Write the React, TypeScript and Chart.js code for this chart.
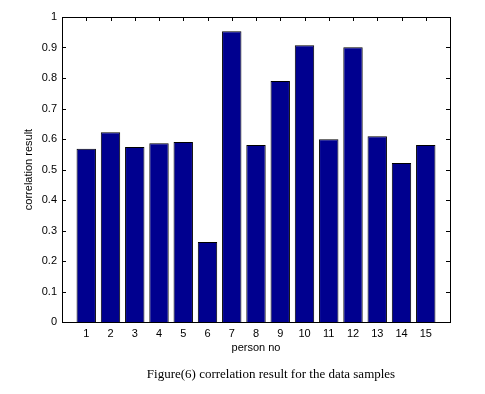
import React, { useEffect, useRef } from "react";
import { Chart, registerables } from "chart.js";

Chart.register(...registerables);

const categories = [1, 2, 3, 4, 5, 6, 7, 8, 9, 10, 11, 12, 13, 14, 15];
const correlation = [0.568, 0.622, 0.574, 0.586, 0.59, 0.262, 0.953, 0.58, 0.79, 0.907, 0.599, 0.901, 0.609, 0.521, 0.58];
const yTicks = [0, 0.1, 0.2, 0.3, 0.4, 0.5, 0.6, 0.7, 0.8, 0.9, 1];
const xTitle = "person no";
const yTitle = "correlation result";
const caption = "Figure(6) correlation result for the data samples";

const W = 485;
const H = 394;

const framePlugin = {
  id: "matlabFrame",
  beforeDatasetsDraw(chart: any) {
    const { ctx, chartArea: a, scales } = chart;
    ctx.save();
    ctx.strokeStyle = "#000";
    ctx.lineWidth = 1;
    const tl = 4;
    ctx.beginPath();
    for (const v of categories) {
      const x = Math.round(scales.x.getPixelForValue(v)) + 0.5;
      ctx.moveTo(x, a.bottom);
      ctx.lineTo(x, a.bottom - tl);
      ctx.moveTo(x, a.top);
      ctx.lineTo(x, a.top + tl);
    }
    for (const v of yTicks) {
      const y = Math.round(scales.y.getPixelForValue(v)) + 0.5;
      ctx.moveTo(a.left, y);
      ctx.lineTo(a.left + tl, y);
      ctx.moveTo(a.right, y);
      ctx.lineTo(a.right - tl, y);
    }
    ctx.stroke();
    ctx.restore();
  },
  afterDraw(chart: any) {
    const { ctx, chartArea: a } = chart;
    ctx.save();
    ctx.strokeStyle = "#000";
    ctx.lineWidth = 1;
    ctx.strokeRect(Math.round(a.left) + 0.5, Math.round(a.top) + 0.5, Math.round(a.right - a.left), Math.round(a.bottom - a.top));
    ctx.fillStyle = "#000";
    ctx.textAlign = "center";
    ctx.textBaseline = "middle";
    ctx.font = '11px "Liberation Sans", Arial, sans-serif';
    ctx.fillText(xTitle, (a.left + a.right) / 2, 348);
    ctx.save();
    ctx.translate(29, (a.top + a.bottom) / 2);
    ctx.rotate(-Math.PI / 2);
    ctx.fillText(yTitle, 0, 0);
    ctx.restore();
    ctx.font = '13px "Liberation Serif", "Times New Roman", serif';
    ctx.fillText(caption, 271, 375);
    ctx.restore();
  },
};

export default function App() {
  const ref = useRef<HTMLCanvasElement>(null);
  useEffect(() => {
    if (!ref.current) return;
    const chart = new Chart(ref.current, {
      type: "bar",
      data: {
        datasets: [
          {
            data: categories.map((c, i) => ({ x: c, y: correlation[i] })),
            backgroundColor: "#00008F",
            borderColor: "#000000",
            borderWidth: 1,
            barPercentage: 0.8,
            categoryPercentage: 1,
          },
        ],
      },
      options: {
        responsive: false,
        animation: false,
        devicePixelRatio: 1,
        layout: { padding: { top: 17, right: 35, left: 0, bottom: 0 } },
        plugins: { legend: { display: false }, tooltip: { enabled: false }, title: { display: false } },
        scales: {
          x: {
            type: "linear",
            min: 0,
            max: 16,
            offset: false,
            grid: { display: false, drawTicks: false },
            border: { display: false },
            afterBuildTicks: (s: any) => {
              s.ticks = categories.map((v) => ({ value: v }));
            },
            afterFit: (s: any) => {
              s.height = 72;
            },
            ticks: {
              padding: 5,
              color: "#000",
              maxRotation: 0,
              autoSkip: false,
              font: { family: '"Liberation Sans", Arial, sans-serif', size: 11 },
              callback: (v: any) => String(v),
            },
          },
          y: {
            min: 0,
            max: 1,
            grid: { display: false, drawTicks: false },
            border: { display: false },
            afterBuildTicks: (s: any) => {
              s.ticks = yTicks.map((v) => ({ value: v }));
            },
            afterFit: (s: any) => {
              s.width = 62;
            },
            ticks: {
              padding: 5,
              color: "#000",
              font: { family: '"Liberation Sans", Arial, sans-serif', size: 11 },
              callback: (v: any) => String(Math.round(Number(v) * 10) / 10),
            },
          },
        },
      },
      plugins: [framePlugin],
    });
    return () => chart.destroy();
  }, []);
  return (
    <div style={{ position: "absolute", left: 0, top: 0, width: W, height: H, background: "#fff" }}>
      <canvas ref={ref} width={W} height={H} style={{ width: W, height: H, display: "block" }} />
    </div>
  );
}
